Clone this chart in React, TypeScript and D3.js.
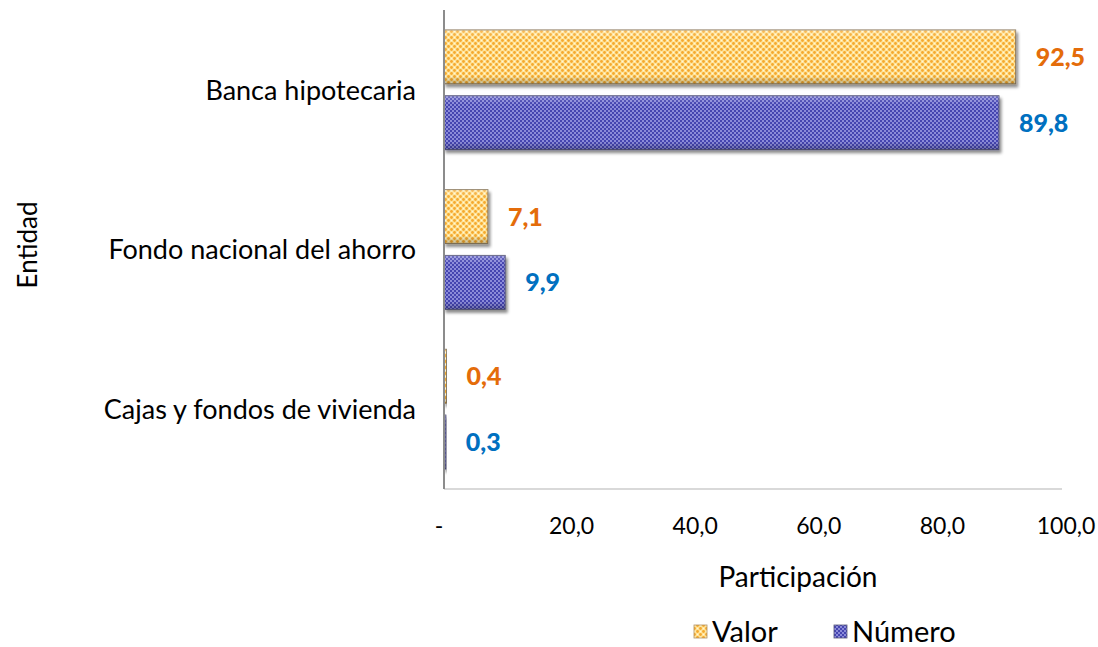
import React from "react";
import * as d3 from "d3";

const categories = ["Banca hipotecaria", "Fondo nacional del ahorro", "Cajas y fondos de vivienda"];
const seriesNames = ["Valor", "Número"];
const valor = [92.5, 7.1, 0.4];
const numero = [89.8, 9.9, 0.3];
const xTicks = [0, 20, 40, 60, 80, 100];
const xTickLabels = ["-", "20,0", "40,0", "60,0", "80,0", "100,0"];

const W = 1098;
const H = 647;
const left = 444;
const right = 1062;
const top = 10;
const bottom = 489;

const FONT = "Lato, 'Open Sans', sans-serif";

export default function App() {
  const x = d3.scaleLinear().domain([0, 100]).range([left, right]);
  const y0 = d3.scaleBand<string>().domain(categories).range([top, bottom]).paddingInner(0.25).paddingOuter(0.125);
  const y1 = d3.scaleBand<string>().domain(seriesNames).range([0, y0.bandwidth()]).paddingInner(0.18);
  const series = [
    { name: "Valor", values: valor, fill: "url(#patValor)", label: "#E46C0A", stroke: "#8a7a60" },
    { name: "Número", values: numero, fill: "url(#patNumero)", label: "#0070C0", stroke: "#555577" },
  ];
  const fmt = (v: number) => v.toFixed(1).replace(".", ",");

  return (
    <svg width={W} height={H} style={{ display: "block", position: "absolute", left: 0, top: 0 }}>
      <defs>
        <pattern id="patValor" width="6" height="6" patternUnits="userSpaceOnUse">
          <rect width="6" height="6" fill="#FFE49A" />
          <circle cx="1.5" cy="1.5" r="1.4" fill="#F5A92E" />
          <circle cx="4.5" cy="4.5" r="1.4" fill="#F5A92E" />
          <circle cx="4.5" cy="1.5" r="0.7" fill="#FFF6D8" />
          <circle cx="1.5" cy="4.5" r="0.7" fill="#FFF6D8" />
        </pattern>
        <pattern id="patNumero" width="4" height="4" patternUnits="userSpaceOnUse">
          <rect width="4" height="4" fill="#5B5BC8" />
          <rect x="0" y="0" width="2" height="2" fill="#4545B0" />
          <rect x="2" y="2" width="2" height="2" fill="#4545B0" />
          <circle cx="3" cy="1" r="0.8" fill="#C8C8F0" />
          <circle cx="1" cy="3" r="0.8" fill="#C8C8F0" />
        </pattern>
        <filter id="shadow" x="-5%" y="-20%" width="115%" height="150%">
          <feDropShadow dx="2" dy="3" stdDeviation="1.6" floodColor="#000" floodOpacity="0.45" />
        </filter>
        <linearGradient id="bevel" x1="0" y1="0" x2="0" y2="1">
          <stop offset="0" stopColor="#fff" stopOpacity="0.25" />
          <stop offset="0.15" stopColor="#fff" stopOpacity="0" />
          <stop offset="0.85" stopColor="#000" stopOpacity="0" />
          <stop offset="1" stopColor="#000" stopOpacity="0.25" />
        </linearGradient>
      </defs>

      <line x1={left} x2={right} y1={bottom} y2={bottom} stroke="#d9d9d9" strokeWidth={2} />

      {categories.map((c, i) =>
        series.map((s) => {
          const yy = (y0(c) ?? 0) + (y1(s.name) ?? 0);
          const w = x(s.values[i]) - x(0);
          return (
            <g key={c + s.name}>
              <rect x={x(0)} y={yy} width={w} height={y1.bandwidth()} fill={s.fill} stroke={s.stroke} strokeWidth={1} filter="url(#shadow)" />
              <rect x={x(0)} y={yy} width={w} height={y1.bandwidth()} fill="url(#bevel)" />
              <text
                x={x(s.values[i]) + 20}
                y={yy + y1.bandwidth() / 2}
                dy="0.36em"
                fill={s.label}
                fontFamily={FONT}
                fontWeight="900"
                fontSize={25}
              >
                {fmt(s.values[i])}
              </text>
            </g>
          );
        })
      )}

      <line x1={left} x2={left} y1={top} y2={bottom} stroke="#8c8c8c" strokeWidth={2} />

      {categories.map((c) => (
        <text key={c} x={416} y={(y0(c) ?? 0) + y0.bandwidth() / 2} dy="0.36em" textAnchor="end" fontFamily={FONT} fontSize={27} fill="#000">
          {c}
        </text>
      ))}

      {xTicks.map((t, i) => (
        <text key={t} x={i === 0 ? x(t) - 5 : x(t) + 4} y={534} textAnchor="middle" fontFamily={FONT} fontSize={23} fill="#000">
          {xTickLabels[i]}
        </text>
      ))}

      <text x={798} y={587} textAnchor="middle" fontFamily={FONT} fontSize={28} fill="#000">
        Participación
      </text>
      <text transform={`translate(37,245) rotate(-90)`} textAnchor="middle" fontFamily={FONT} fontSize={26} fill="#000">
        Entidad
      </text>

      <g>
        <rect x={694} y={625} width={13} height={13} fill="url(#patValor)" stroke="#b09060" strokeWidth={0.8} />
        <text x={712} y={632} dy="0.36em" fontFamily={FONT} fontSize={29} fill="#000">Valor</text>
        <rect x={834} y={625} width={13} height={13} fill="url(#patNumero)" stroke="#555577" strokeWidth={0.8} />
        <text x={852} y={632} dy="0.36em" fontFamily={FONT} fontSize={29} fill="#000">Número</text>
      </g>
    </svg>
  );
}
